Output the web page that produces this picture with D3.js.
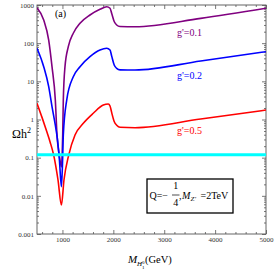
<!DOCTYPE html>
<html>
<head>
<meta charset="utf-8">
<script src="https://cdn.jsdelivr.net/npm/d3@7"></script>
<style>
  body { margin: 0; background: #fff; }
  svg { display: block; font-family: "Liberation Serif", "Times New Roman", serif; }
</style>
</head>
<body>
<svg id="chart" width="274" height="270"></svg>
<script>
// relic density vs dark matter mass
const massG01 = [500, 632, 730, 795, 860, 893, 940, 980, 995, 1005, 1017, 1050, 1115, 1213, 1345, 1541, 1738, 1870, 1935, 1968, 2019, 2066, 2131, 2426, 3717, 5000];
const omegaG01 = [850, 405, 121, 24.2, 3.24, 0.393, 0.112, 0.0575, 0.126, 0.393, 3.24, 24.2, 80.9, 182, 332, 547, 771, 902, 820, 603, 363, 299, 274, 269, 447, 820];

const massG02 = [500, 632, 730, 795, 860, 900, 940, 980, 1000, 1017, 1084, 1213, 1345, 1541, 1738, 1870, 1935, 1968, 2019, 2066, 2131, 2426, 3717, 5000];
const omegaG02 = [73.5, 24.2, 7.24, 2.17, 0.708, 0.316, 0.0891, 0.0174, 0.0631, 0.393, 3.24, 13.2, 24.2, 44.3, 66.2, 73.5, 66.1, 45.7, 26.3, 21.9, 20.0, 19.8, 34.1, 59.8];

const massG05 = [500, 600, 700, 760, 828, 913, 980, 1030, 1123, 1247, 1410, 1606, 1803, 1901, 1935, 1968, 2019, 2066, 2131, 2426, 3717, 5000];
const omegaG05 = [2.66, 1.12, 0.447, 0.251, 0.117, 0.026, 0.00575, 0.026, 0.117, 0.393, 0.796, 1.46, 2.40, 2.55, 2.26, 1.51, 0.871, 0.708, 0.624, 0.610, 1.03, 1.77];

const seriesNames = ["g'=0.1", "g'=0.2", "g'=0.5"];
const seriesColors = ["#800080", "#0000ff", "#ff0000"];
const planckOmega = 0.12;

const xTicks = [1000, 2000, 3000, 4000, 5000];
const yTicks = [0.001, 0.01, 0.1, 1, 10, 100, 1000];
const yTickLabels = ["0.001", "0.01", "0.1", "1", "10", "100", "1000"];

const plotLeft = 37, plotRight = 266, plotTop = 5, plotBottom = 234;

const svg = d3.select('#chart');

const x = d3.scaleLinear().domain([500, 5000]).range([plotLeft, plotRight]);
const y = d3.scaleLog().domain([0.001, 1000]).range([plotBottom, plotTop]);

// minor tick positions
const xMinor = d3.range(600, 5000, 200).filter(d => d % 1000 !== 0);
const yMinor = [];
yTicks.slice(0, -1).forEach(t => {
  for (let k = 2; k < 10; k++) yMinor.push(t * k);
});

function frameAxis(axis, g, ticks, size, labels) {
  axis.tickValues(ticks).tickSize(size).tickPadding(3);
  if (labels) axis.tickFormat((d, i) => labels[i]);
  else axis.tickFormat('');
  g.call(axis);
  g.select('.domain').remove();
  g.selectAll('line').attr('stroke', '#555').attr('stroke-width', 0.8);
  g.selectAll('text').attr('font-size', 7).attr('fill', '#333')
    .attr('font-family', '"Liberation Serif", serif');
}

// bottom / top
frameAxis(d3.axisBottom(x), svg.append('g').attr('transform', `translate(0,${plotBottom})`), xTicks, -4, xTicks.map(String));
frameAxis(d3.axisBottom(x), svg.append('g').attr('transform', `translate(0,${plotBottom})`), xMinor, -2, null);
frameAxis(d3.axisTop(x), svg.append('g').attr('transform', `translate(0,${plotTop})`), xTicks, -4, null);
frameAxis(d3.axisTop(x), svg.append('g').attr('transform', `translate(0,${plotTop})`), xMinor, -2, null);
// left / right
frameAxis(d3.axisLeft(y), svg.append('g').attr('transform', `translate(${plotLeft},0)`), yTicks, -4, yTickLabels);
frameAxis(d3.axisLeft(y), svg.append('g').attr('transform', `translate(${plotLeft},0)`), yMinor, -2, null);
frameAxis(d3.axisRight(y), svg.append('g').attr('transform', `translate(${plotRight},0)`), yTicks, -4, null);
frameAxis(d3.axisRight(y), svg.append('g').attr('transform', `translate(${plotRight},0)`), yMinor, -2, null);

svg.append('rect')
  .attr('x', plotLeft).attr('y', plotTop)
  .attr('width', plotRight - plotLeft).attr('height', plotBottom - plotTop)
  .attr('fill', 'none').attr('stroke', '#555').attr('stroke-width', 0.9);

svg.append('clipPath').attr('id', 'clip')
  .append('rect').attr('x', plotLeft).attr('y', plotTop)
  .attr('width', plotRight - plotLeft).attr('height', plotBottom - plotTop);

const series = [
  massG01.map((m, i) => [m, omegaG01[i]]),
  massG02.map((m, i) => [m, omegaG02[i]]),
  massG05.map((m, i) => [m, omegaG05[i]])
];

const line = d3.line()
  .x(d => x(d[0]))
  .y(d => y(d[1]))
  .curve(d3.curveMonotoneX);

const plot = svg.append('g').attr('clip-path', 'url(#clip)');

plot.selectAll('path.curve')
  .data(series)
  .join('path')
  .attr('class', 'curve')
  .attr('d', line)
  .attr('fill', 'none')
  .attr('stroke', (d, i) => seriesColors[i])
  .attr('stroke-width', 1.6);

// planck band
plot.append('line')
  .attr('x1', plotLeft).attr('x2', plotRight)
  .attr('y1', y(planckOmega)).attr('y2', y(planckOmega))
  .attr('stroke', '#00ffff').attr('stroke-width', 3);

// curve labels
const labelY = [36, 79, 134];
svg.selectAll('text.glabel')
  .data(seriesNames)
  .join('text')
  .attr('class', 'glabel')
  .attr('x', 177).attr('y', (d, i) => labelY[i])
  .attr('font-size', 10)
  .attr('fill', (d, i) => seriesColors[i])
  .text(d => d);

svg.append('text').attr('x', 55).attr('y', 17).attr('font-size', 10).text('(a)');

// y label
const yl = svg.append('text').attr('x', 12).attr('y', 138).attr('font-size', 12);
yl.append('tspan').text('Ωh');
yl.append('tspan').attr('font-size', 8).attr('dy', -5).text('2');

// x label
const xl = svg.append('g');
xl.append('text').attr('x', 128).attr('y', 263).attr('font-size', 11).attr('font-style', 'italic').text('M');
xl.append('text').attr('x', 137).attr('y', 266).attr('font-size', 7).attr('font-style', 'italic').text('H');
xl.append('text').attr('x', 142).attr('y', 263.5).attr('font-size', 5).text('0');
xl.append('text').attr('x', 142).attr('y', 268.5).attr('font-size', 5).text('1');
xl.append('text').attr('x', 145).attr('y', 263).attr('font-size', 10.5).text('(GeV)');

// parameter box
svg.append('rect')
  .attr('x', 147).attr('y', 179).attr('width', 86).attr('height', 34)
  .attr('fill', '#fff').attr('stroke', '#000').attr('stroke-width', 1.3);
const box = svg.append('g').attr('font-size', 10);
box.append('text').attr('x', 149.5).attr('y', 198.5).text('Q=−');
box.append('text').attr('x', 175.7).attr('y', 189).attr('text-anchor', 'middle').text('1');
box.append('line').attr('x1', 172).attr('x2', 179.5).attr('y1', 195).attr('y2', 195)
  .attr('stroke', '#000').attr('stroke-width', 0.7);
box.append('text').attr('x', 175.7).attr('y', 206).attr('text-anchor', 'middle').text('4');
box.append('text').attr('x', 179).attr('y', 198.5).text(',');
box.append('text').attr('x', 182).attr('y', 198.5).attr('font-style', 'italic').text('M');
box.append('text').attr('x', 190.5).attr('y', 201).attr('font-size', 7).attr('font-style', 'italic').text("Z'");
box.append('text').attr('x', 200.5).attr('y', 198.5).text('=2TeV');
</script>
</body>
</html>
